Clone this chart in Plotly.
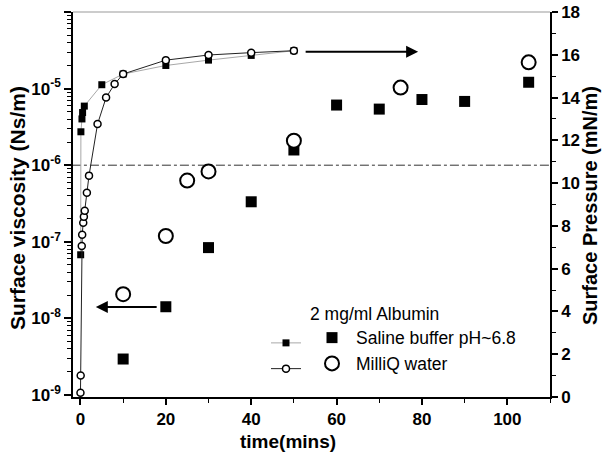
import plotly.graph_objects as go

# --- Surface pressure (right axis, mN/m) ---
t_p_saline = [0.05, 0.1, 0.35, 0.5, 0.9, 5, 10, 20, 30, 40, 50]
p_saline = [6.65, 12.4, 13.0, 13.3, 13.6, 14.6, 15.1, 15.5, 15.75, 15.97, 16.19]

t_p_milliq = [0, 0.05, 0.3, 0.4, 0.65, 0.8, 1.0, 1.5, 2.0, 4.0, 6.0, 8.0, 10, 20, 30, 40, 50]
p_milliq = [0.2, 1.0, 7.06, 7.59, 8.15, 8.43, 8.71, 9.55, 10.35, 12.76, 14.0, 14.63, 15.1, 15.75, 15.99, 16.1, 16.19]

# --- Surface viscosity (left axis, Ns/m) ---
t_v_saline = [10, 20, 30, 40, 50, 60, 70, 80, 90, 105]
v_saline = [2.95e-9, 1.42e-8, 8.4e-8, 3.33e-7, 1.58e-6, 6.1e-6, 5.4e-6, 7.2e-6, 6.8e-6, 1.21e-5]

t_v_milliq = [10, 20, 25, 30, 50, 75, 105]
v_milliq = [2.07e-8, 1.19e-7, 6.3e-7, 8.3e-7, 2.09e-6, 1.03e-5, 2.2e-5]

threshold_visc = 1e-6

x_ticks = [0, 20, 40, 60, 80, 100]
p_ticks = [0, 2, 4, 6, 8, 10, 12, 14, 16, 18]
log_ticks = [1e-9, 1e-8, 1e-7, 1e-6, 1e-5, 1e-4]
log_ticktext = ["10<sup>-9</sup>", "10<sup>-8</sup>", "10<sup>-7</sup>", "10<sup>-6</sup>",
                "10<sup>-5</sup>", "10<sup>-4</sup>"]
log_minor = [k * 10.0 ** n for n in range(-9, -4) for k in range(2, 10)]

FONT = "Liberation Sans, Arial, sans-serif"

fig = go.Figure()

fig.add_trace(go.Scatter(
    x=[-2, 112], y=[threshold_visc, threshold_visc], mode="lines",
    line=dict(color="#333333", width=1, dash="dashdot"),
    showlegend=False, hoverinfo="skip", yaxis="y"))

fig.add_trace(go.Scatter(
    x=t_p_saline, y=p_saline, mode="lines+markers", name=" ",
    line=dict(color="#a8a8a8", width=1),
    marker=dict(symbol="square", size=7, color="black"),
    yaxis="y2", legend="legend2", cliponaxis=False))

fig.add_trace(go.Scatter(
    x=t_p_milliq, y=p_milliq, mode="lines+markers", name=" ",
    line=dict(color="#222222", width=1),
    marker=dict(symbol="circle", size=7, color="white", line=dict(color="black", width=1.5)),
    yaxis="y2", legend="legend2", cliponaxis=False))

fig.add_trace(go.Scatter(
    x=t_v_saline, y=v_saline, mode="markers", name="Saline buffer pH~6.8",
    marker=dict(symbol="square", size=11, color="black"),
    yaxis="y", legend="legend"))

fig.add_trace(go.Scatter(
    x=t_v_milliq, y=v_milliq, mode="markers", name="MilliQ water",
    marker=dict(symbol="circle", size=14, color="white", line=dict(color="black", width=2)),
    yaxis="y", legend="legend"))

tickfont = dict(family=FONT, size=17, color="black")
legfont = dict(family=FONT, size=17.5, color="black")

def px_x(p):  # page pixel -> plot-area paper fraction (x)
    return (p - 73) / 477

def px_y(p):  # page pixel -> plot-area paper fraction (y)
    return (397 - p) / 385

fig.update_layout(
    width=602, height=453,
    margin=dict(l=73, r=52, t=12, b=56, autoexpand=False),
    plot_bgcolor="white", paper_bgcolor="white",
    font=dict(family=FONT, color="black"),
    xaxis=dict(
        range=[-1.75, 110], tickvals=x_ticks, ticktext=["<b>%d</b>" % v for v in x_ticks],
        ticks="outside", ticklen=6, tickwidth=1.5, tickcolor="black",
        minor=dict(ticks="outside", ticklen=4, tickwidth=1, tickcolor="black", dtick=10, tick0=0),
        showline=True, linecolor="black", linewidth=1.5,
        showgrid=False, zeroline=False, automargin=False,
        tickfont=tickfont,
    ),
    yaxis=dict(
        type="log", range=[-9.026, -4],
        tickmode="array", tickvals=log_ticks, ticktext=["<b>" + s + "</b>" for s in log_ticktext],
        ticks="outside", ticklen=7, tickwidth=1.5, tickcolor="black",
        minor=dict(ticks="outside", ticklen=4, tickwidth=1, tickcolor="black",
                   tickmode="array", tickvals=log_minor),
        showline=True, linecolor="black", linewidth=1.5,
        showgrid=False, zeroline=False, automargin=False,
        tickfont=tickfont,
    ),
    yaxis2=dict(
        overlaying="y", side="right", range=[0, 18],
        tickvals=p_ticks, ticktext=["<b>%d</b>" % v for v in p_ticks],
        ticks="outside", ticklen=6, tickwidth=1.5, tickcolor="black",
        minor=dict(ticks="outside", ticklen=4, tickwidth=1, tickcolor="black", dtick=1, tick0=0),
        showline=True, linecolor="black", linewidth=1.5,
        showgrid=False, zeroline=False, automargin=False,
        tickfont=tickfont,
    ),
    legend=dict(
        x=px_x(308), y=px_y(297), xanchor="left", yanchor="top",
        bgcolor="rgba(0,0,0,0)", font=legfont,
        title=dict(text="2 mg/ml Albumin", font=legfont),
        itemwidth=38, tracegroupgap=0,
    ),
    legend2=dict(
        x=px_x(266), y=px_y(325), xanchor="left", yanchor="top",
        bgcolor="rgba(0,0,0,0)", font=legfont,
        itemwidth=30, tracegroupgap=0,
    ),
    shapes=[dict(type="line", xref="paper", yref="paper", x0=0, x1=1, y0=1, y1=1,
                 line=dict(color="#999999", width=1))],
    annotations=[
        dict(x=3.6, y=-7.85, ax=18.2, ay=-7.85, xref="x", yref="y", axref="x", ayref="y",
             showarrow=True, arrowhead=2, arrowsize=1.2, arrowwidth=2, arrowcolor="black", text=""),
        dict(x=79.1, y=16.14, ax=52.4, ay=16.14, xref="x", yref="y2", axref="x", ayref="y2",
             showarrow=True, arrowhead=2, arrowsize=1.2, arrowwidth=2, arrowcolor="black", text=""),
        dict(text="<b>time(mins)</b>", xref="paper", yref="paper", x=px_x(288), y=px_y(441),
             xanchor="center", yanchor="middle", showarrow=False,
             font=dict(family=FONT, size=19, color="black")),
        dict(text="<b>Surface viscosity (Ns/m)</b>", xref="paper", yref="paper",
             x=px_x(18), y=px_y(208), textangle=-90,
             xanchor="center", yanchor="middle", showarrow=False,
             font=dict(family=FONT, size=21, color="black")),
        dict(text="<b>Surface Pressure (mN/m)</b>", xref="paper", yref="paper",
             x=px_x(590), y=px_y(206), textangle=-90,
             xanchor="center", yanchor="middle", showarrow=False,
             font=dict(family=FONT, size=20, color="black")),
    ],
)

# remove the default 8px body margin so the figure fills the window exactly
fig.write_html("out.html",
               config={"displayModeBar": False},
               post_script="document.body.style.margin='0';document.body.style.overflow='hidden';")
